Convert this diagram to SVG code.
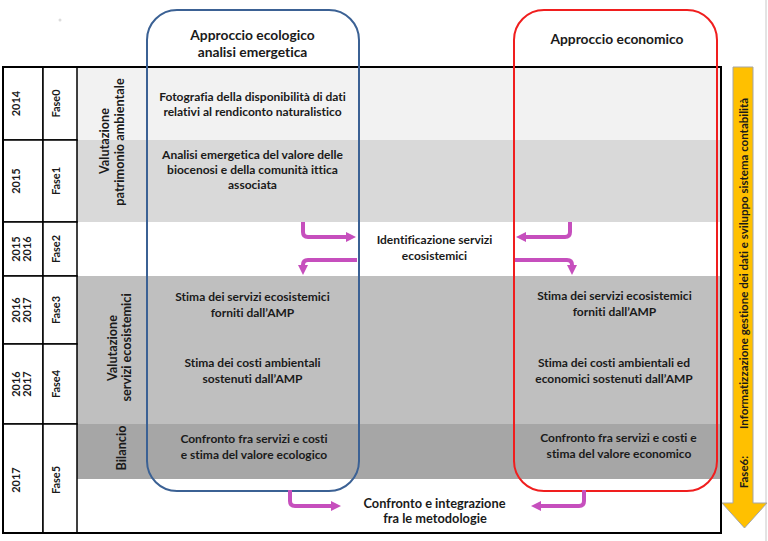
<svg xmlns="http://www.w3.org/2000/svg" width="768" height="541" viewBox="0 0 768 541">
<style>
text{font-family:Lato,"Open Sans","Liberation Sans",sans-serif;font-weight:bold;fill:#1a1a1a;font-variant-ligatures:none;font-feature-settings:"liga" 0}
.b{font-size:12px;text-anchor:middle}
.t{font-size:13.8px;text-anchor:middle}
.v{font-size:11px;text-anchor:middle}
.g{font-size:12.7px;text-anchor:middle}
.cell{fill:#fff;stroke:#000;stroke-width:1.5}
.conn{fill:none;stroke:#c64fbd;stroke-width:4;marker-end:url(#ah)}
</style>
<defs>
<marker id="ah" markerUnits="userSpaceOnUse" viewBox="0 0 10 10" markerWidth="10" markerHeight="10" refX="1" refY="5" orient="auto">
<path d="M0,0 L10,5 L0,10 z" fill="#c64fbd"/>
</marker>
</defs>
<rect width="768" height="541" fill="#fff"/>
<circle cx="60" cy="20" r="1.5" fill="#dcdcdc"/>
<line x1="766" y1="0" x2="766" y2="541" stroke="#c8c8c8" stroke-width="1"/>

<g id="bands">
<rect x="77" y="67" width="644" height="73" fill="#f2f2f2"/>
<rect x="77" y="140" width="644" height="82" fill="#d9d9d9"/>
<rect x="77" y="276" width="644" height="148" fill="#bfbfbf"/>
<rect x="77" y="424" width="644" height="55" fill="#a6a6a6"/>
</g>

<g id="table">
<rect x="3" y="67" width="40" height="73" class="cell"/>
<rect x="43" y="67" width="34" height="73" class="cell"/>
<rect x="3" y="140" width="40" height="82" class="cell"/>
<rect x="43" y="140" width="34" height="82" class="cell"/>
<rect x="3" y="222" width="40" height="54" class="cell"/>
<rect x="43" y="222" width="34" height="54" class="cell"/>
<rect x="3" y="276" width="40" height="68" class="cell"/>
<rect x="43" y="276" width="34" height="68" class="cell"/>
<rect x="3" y="344" width="40" height="80" class="cell"/>
<rect x="43" y="344" width="34" height="80" class="cell"/>
<rect x="3" y="424" width="40" height="109" class="cell"/>
<rect x="43" y="424" width="34" height="109" class="cell"/>
<rect x="3" y="67" width="718" height="466" fill="none" stroke="#000" stroke-width="2"/>
</g>

<g id="years">
<text class="v" transform="translate(16.5,103.5) rotate(-90)" dy="0.35em">2014</text>
<text class="v" transform="translate(16.5,181) rotate(-90)" dy="0.35em">2015</text>
<text class="v" transform="translate(16,249) rotate(-90)" dy="0.35em">2015</text>
<text class="v" transform="translate(27.5,249) rotate(-90)" dy="0.35em">2016</text>
<text class="v" transform="translate(16,310) rotate(-90)" dy="0.35em">2016</text>
<text class="v" transform="translate(27.5,310) rotate(-90)" dy="0.35em">2017</text>
<text class="v" transform="translate(16,384) rotate(-90)" dy="0.35em">2016</text>
<text class="v" transform="translate(27.5,384) rotate(-90)" dy="0.35em">2017</text>
<text class="v" transform="translate(16.5,480) rotate(-90)" dy="0.35em">2017</text>
</g>
<g id="phases">
<text class="v" transform="translate(56.5,103.5) rotate(-90)" dy="0.35em">Fase0</text>
<text class="v" transform="translate(56.5,181) rotate(-90)" dy="0.35em">Fase1</text>
<text class="v" transform="translate(56.5,249) rotate(-90)" dy="0.35em">Fase2</text>
<text class="v" transform="translate(56.5,310) rotate(-90)" dy="0.35em">Fase3</text>
<text class="v" transform="translate(56.5,384) rotate(-90)" dy="0.35em">Fase4</text>
<text class="v" transform="translate(56.5,480) rotate(-90)" dy="0.35em">Fase5</text>
</g>
<g id="group-labels">
<text class="g" transform="translate(105,141) rotate(-90)" dy="0.35em">Valutazione</text>
<text class="g" transform="translate(120,142) rotate(-90)" dy="0.35em">patrimonio ambientale</text>
<text class="g" transform="translate(112.5,348) rotate(-90)" dy="0.35em">Valutazione</text>
<text class="g" transform="translate(126.5,347.5) rotate(-90)" dy="0.35em">servizi ecosistemici</text>
<text class="g" transform="translate(121.5,448) rotate(-90)" dy="0.35em">Bilancio</text>
</g>

<g id="approccio-ecologico">
<rect x="147" y="10" width="212" height="481" rx="30" ry="30" fill="none" stroke="#3b6194" stroke-width="2"/>
<text class="t" x="252.5" y="40">Approccio ecologico</text>
<text class="t" x="252.5" y="57">analisi emergetica</text>
</g>
<g id="approccio-economico">
<rect x="514" y="10" width="203" height="481" rx="30" ry="30" fill="none" stroke="#f01e1e" stroke-width="2"/>
<text class="t" x="617" y="44">Approccio economico</text>
</g>

<g id="fase0-eco"><text class="b" x="252.5" y="101">Fotografia della disponibilità di dati</text><text class="b" x="252.5" y="116">relativi al rendiconto naturalistico</text></g>
<g id="fase1-eco"><text class="b" x="252.5" y="158.5">Analisi emergetica del valore delle</text><text class="b" x="252.5" y="173.5">biocenosi e della comunità ittica</text><text class="b" x="252.5" y="188.5">associata</text></g>
<g id="fase2"><text class="b" x="434.5" y="244">Identificazione servizi</text><text class="b" x="434.5" y="260">ecosistemici</text></g>
<g id="fase3-eco"><text class="b" x="252.5" y="301">Stima dei servizi ecosistemici</text><text class="b" x="252.5" y="317">forniti dall’AMP</text></g>
<g id="fase3-econ"><text class="b" x="614.5" y="299.5">Stima dei servizi ecosistemici</text><text class="b" x="614.5" y="315.5">forniti dall’AMP</text></g>
<g id="fase4-eco"><text class="b" x="252.5" y="367">Stima dei costi ambientali</text><text class="b" x="252.5" y="383">sostenuti dall’AMP</text></g>
<g id="fase4-econ"><text class="b" x="614" y="366.5">Stima dei costi ambientali ed</text><text class="b" x="614" y="382.5">economici sostenuti dall’AMP</text></g>
<g id="fase5-eco"><text class="b" x="254" y="443">Confronto fra servizi e costi</text><text class="b" x="254" y="459">e stima del valore ecologico</text></g>
<g id="fase5-econ"><text class="b" x="618.5" y="441.5">Confronto fra servizi e costi e</text><text class="b" x="619" y="457.5">stima del valore economico</text></g>
<g id="integrazione"><text class="t" x="434.5" y="507.5" style="font-size:12.8px">Confronto e integrazione</text><text class="t" x="435" y="523" style="font-size:12.8px">fra le metodologie</text></g>

<g id="fase6">
<polygon points="733,67 753,67 753,503 767,503 744.5,528 722,503 733,503" fill="#ffc000" stroke="#a5a5a5" stroke-width="1"/>
<text class="v" transform="translate(744,472) rotate(-90)" dy="0.35em" style="font-size:11.5px">Fase6:</text>
<text class="v" transform="translate(744,263.5) rotate(-90)" dy="0.35em" style="font-size:11.5px">Informatizzazione gestione dei dati e sviluppo sistema contabilità</text>
</g>

<g id="connectors">
<path class="conn" d="M303,222 V232 Q303,237 308,237 H347"/>
<path class="conn" d="M357,260 H308 Q303,260 303,265 V266"/>
<path class="conn" d="M570,222 V232 Q570,237 565,237 H525"/>
<path class="conn" d="M515,260 H567 Q572,260 572,265 V266"/>
<path class="conn" d="M290,490 V501 Q290,506 295,506 H332"/>
<path class="conn" d="M584,490 V501 Q584,506 579,506 H540"/>
</g>
</svg>
